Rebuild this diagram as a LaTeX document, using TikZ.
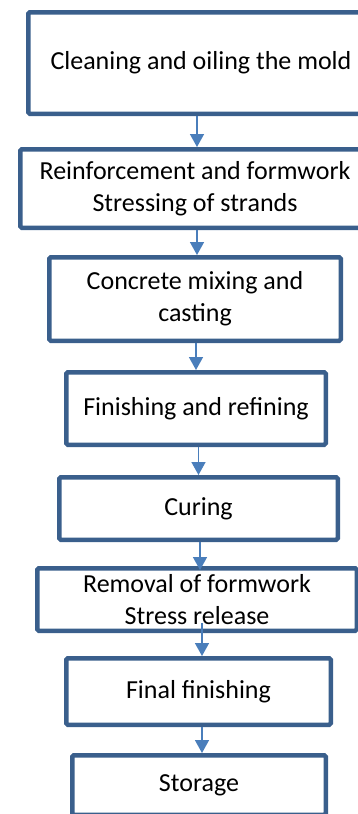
\documentclass[tikz,border=0pt]{standalone}
\usepackage{fontspec}
\setmainfont{Carlito}
\usepackage{xcolor}
\usetikzlibrary{arrows.meta,positioning}
\definecolor{boxblue}{RGB}{58,95,140}
\definecolor{arrowblue}{RGB}{74,126,187}

\begin{document}
\begin{tikzpicture}[font=\fontsize{26}{32}\selectfont,>={Triangle[length=13pt,width=14pt]}]
    \tikzset{
      box/.style={draw=boxblue, line width=4.5pt, rounded corners=1.5pt, align=center, inner sep=2pt},
      arrow/.style={->, line width=1.5pt, draw=arrowblue, fill=arrowblue}
    }
    \useasboundingbox (0,0) rectangle (358pt,-814pt);
    \node[box, minimum width=345.5pt, minimum height=101.5pt] (clean) at (201pt,-63pt) {Cleaning and oiling the mold};
    \node[box, minimum width=349.5pt, minimum height=78.5pt, below=31pt of clean, xshift=-6pt] (reinf)
      {Reinforcement and formwork\\Stressing of strands};
    \node[box, minimum width=291.5pt, minimum height=83.5pt, below=25pt of reinf] (mixing)
      {Concrete mixing and\\casting};
    \node[box, minimum width=259.5pt, minimum height=72.5pt, below=27pt of mixing, xshift=1pt] (refine)
      {Finishing and refining};
    \node[box, minimum width=278.5pt, minimum height=62.5pt, below=28pt of refine, xshift=2.5pt] (curing) {Curing};
    \node[box, minimum width=319.5pt, minimum height=62.5pt, below=24pt of curing, xshift=-1.5pt] (removal)
      {Removal of formwork\\Stress release};
    \node[box, minimum width=264.5pt, minimum height=66.5pt, below=23pt of removal, xshift=1.5pt] (final)
      {Final finishing};
    \node[box, minimum width=253.5pt, minimum height=59.5pt, below=26pt of final, xshift=0.5pt] (storage) {Storage};
    \draw[arrow] ([xshift=2pt]reinf.north |- clean.south) -- ([xshift=2pt]reinf.north);
    \draw[arrow] ([xshift=2pt]mixing.north |- reinf.south) -- ([xshift=2pt]mixing.north);
    \draw[arrow] (refine.north |- mixing.south) -- (refine.north);
    \draw[arrow] (curing.north |- refine.south) -- (curing.north);
    \draw[arrow] ([xshift=3pt]removal.north |- curing.south) -- ([xshift=3pt,yshift=-4pt]removal.north);
    \draw[arrow] ([xshift=3.5pt,yshift=10pt]final.north |- removal.south) -- ([xshift=3.5pt]final.north);
    \draw[arrow] ([xshift=3pt]storage.north |- final.south) -- ([xshift=3pt]storage.north);
\end{tikzpicture}
\end{document}
